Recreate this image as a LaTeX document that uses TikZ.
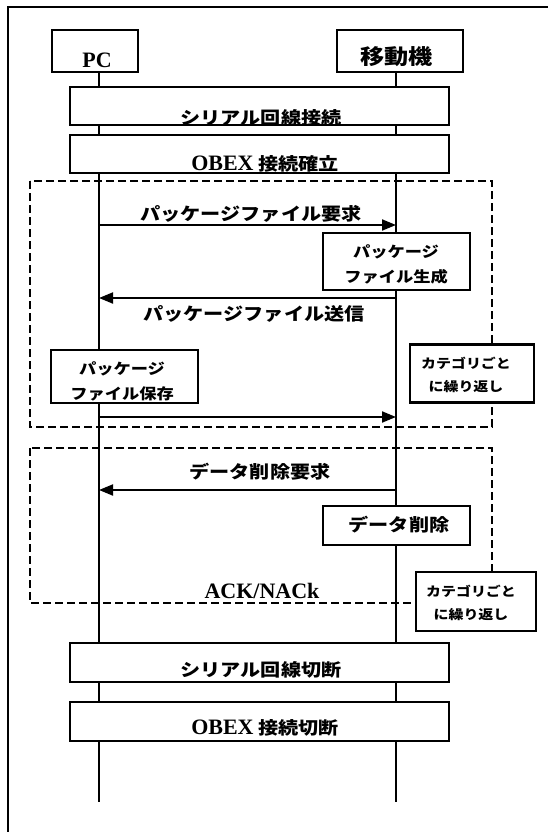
\documentclass[tikz,border=0pt]{standalone}
\usepackage{fontspec}
\setmainfont{Liberation Serif}
\newfontfamily\jp{Noto Sans CJK JP}[FakeStretch=1.15]
\usetikzlibrary{arrows.meta}
\newcommand\latn[1]{{\rmfamily\fontsize{22}{25}\selectfont #1}}
\tikzset{
  life/.style={line width=1.9pt},
  box/.style={draw, line width=2.6pt, fill=white, inner sep=0pt},
  grp/.style={draw, line width=2.3pt, dash pattern=on 8pt off 4pt},
  msg/.style={line width=1.9pt, -{Triangle[length=14pt,width=11pt]}},
  lat/.style={font=\rmfamily\bfseries\fontsize{22}{25}\selectfont, inner sep=0pt},
  big/.style={font=\jp\bfseries\fontsize{17.5}{25}\selectfont, inner sep=0pt, align=center},
  mid/.style={font=\jp\bfseries\fontsize{15}{25}\selectfont, inner sep=0pt, align=center},
  sml/.style={font=\jp\bfseries\fontsize{13}{23}\selectfont, inner sep=0pt, align=center},
  huge/.style={font=\jp\bfseries\fontsize{21}{25}\selectfont, inner sep=0pt},
}
\begin{document}
\begin{tikzpicture}[x=1pt,y=-1pt]
\useasboundingbox (0,0) rectangle (548,832);
% outer frame (top and left only)
\draw[line width=2.3pt] (548,7) -- (8,7) -- (8,832);

% lifelines
\coordinate (pcTop) at (99,72);
\coordinate (pcBot) at (99,802);
\coordinate (mbTop) at (396,72);
\coordinate (mbBot) at (396,802);
\draw[life] (pcTop) -- (pcBot);
\draw[life] (mbTop) -- (mbBot);

% repeat groups
\draw[grp] (30,181) rectangle (492,427);
\draw[grp] (30,448) rectangle (492,603);

% boxes
\node[box, minimum width=86pt, minimum height=42pt] (pc) at (95,51) {};
\node[box, minimum width=126pt, minimum height=42pt] (mb) at (400,51) {};
\node[box, minimum width=379pt, minimum height=38pt] (ser1) at (259.5,106) {};
\node[box, minimum width=379pt, minimum height=38pt] (obex1) at (259.5,154) {};
\node[box, minimum width=147pt, minimum height=57pt] (gen) at (396.5,261.5) {};
\node[box, minimum width=147pt, minimum height=53pt] (save) at (124.5,376.5) {};
\node[box, minimum width=124pt, minimum height=58pt] (cat1) at (472,373.5) {};
\node[box, minimum width=147pt, minimum height=39pt] (del) at (396.5,525.5) {};
\node[box, minimum width=120pt, minimum height=59pt] (cat2) at (476,601.5) {};
\node[box, minimum width=379pt, minimum height=39pt] (ser2) at (259.5,662.5) {};
\node[box, minimum width=379pt, minimum height=39pt] (obex2) at (259.5,721.5) {};

% messages
\coordinate (m1s) at (99,225);  \coordinate (m1e) at (396,225);
\coordinate (m2s) at (396,298); \coordinate (m2e) at (99,298);
\coordinate (m3s) at (99,417);  \coordinate (m3e) at (396,417);
\coordinate (m4s) at (396,490); \coordinate (m4e) at (99,490);
\draw[msg] (m1s) -- (m1e);
\draw[msg] (m2s) -- (m2e);
\draw[msg] (m3s) -- (m3e);
\draw[msg] (m4s) -- (m4e);

% texts
\node[lat] (pcT) at (97,60) {PC};
\node[huge] (mbT) at (396.5,57) {移動機};
\node[big] (ser1T) at (261,118) {シリアル回線接続};
\node[big] (obex1T) at (265,164) {\latn{OBEX} 接続確立};
\node[big] (m1T) at (251,214) {パッケージファイル要求};
\node[mid] (genT) at (396,264.5) {パッケージ\\ファイル生成};
\node[big] (m2T) at (254,314) {パッケージファイル送信};
\node[mid] (saveT) at (122,381.5) {パッケージ\\ファイル保存};
\node[sml] (cat1T) at (466,374.5) {カテゴリごと\\に繰り返し};
\node[big] (m4T) at (260,472) {データ削除要求};
\node[big] (delT) at (399,525) {データ削除};
\node[lat] (ackT) at (262,591) {ACK/NACk};
\node[sml] (cat2T) at (471,603) {カテゴリごと\\に繰り返し};
\node[big] (ser2T) at (261,670) {シリアル回線切断};
\node[big] (obex2T) at (265,728) {\latn{OBEX} 接続切断};
\end{tikzpicture}
\end{document}
